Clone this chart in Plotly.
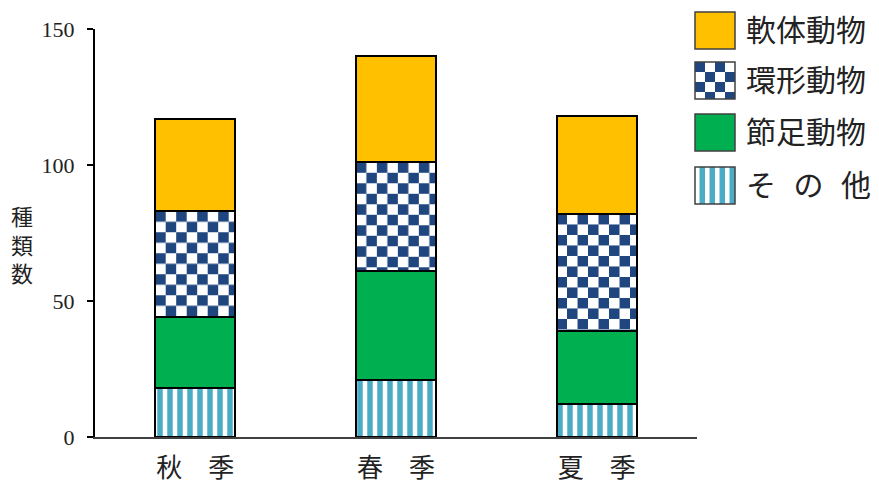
import base64
import plotly.graph_objects as go

# Seasons and species counts per group (stacked bottom to top)
seasons = ["秋　季", "春　季", "夏　季"]
other = [18, 21, 12]          # その他
arthropods = [26, 40, 27]     # 節足動物
annelids = [39, 40, 43]       # 環形動物
molluscs = [34, 39, 36]       # 軟体動物

legend_labels = ["軟体動物", "環形動物", "節足動物", "そ\u2002\u200aの\u2002\u200a他"]
y_ticks = [0, 50, 100, 150]

# Figure geometry (pixels)
W, H = 879, 484
ML, MR, MT, MB = 95, 182, 29, 47
PW, PH = W - ML - MR, H - MT - MB
Y_MAX = 150
BAR_FRAC = 0.4

YELLOW = "#FFC000"
GREEN = "#00B050"
CYAN = "#4BACC6"
NAVY = "#1F467E"

SERIF = "Liberation Serif, Noto Sans CJK JP, serif"


def checker_uri(w, h, cell, dark):
    c2 = 2 * cell
    svg = (
        f"<svg xmlns='http://www.w3.org/2000/svg' width='{w:.2f}' height='{h:.2f}' "
        f"viewBox='0 0 {w:.2f} {h:.2f}' preserveAspectRatio='none'>"
        f"<defs><pattern id='p' width='{c2}' height='{c2}' patternUnits='userSpaceOnUse'>"
        f"<rect width='{c2}' height='{c2}' fill='#ffffff'/>"
        f"<rect width='{cell}' height='{cell}' fill='{dark}'/>"
        f"<rect x='{cell}' y='{cell}' width='{cell}' height='{cell}' fill='{dark}'/>"
        f"</pattern></defs><rect width='{w:.2f}' height='{h:.2f}' fill='url(#p)'/></svg>"
    )
    return "data:image/svg+xml;base64," + base64.b64encode(svg.encode()).decode()


def stripe_uri(w, h, period, blue_w, color):
    svg = (
        f"<svg xmlns='http://www.w3.org/2000/svg' width='{w}' height='{h}' viewBox='0 0 {w} {h}'>"
        f"<defs><pattern id='s' width='{period}' height='{h}' patternUnits='userSpaceOnUse'>"
        f"<rect width='{period}' height='{h}' fill='#ffffff'/>"
        f"<rect x='{period - blue_w}' width='{blue_w}' height='{h}' fill='{color}'/>"
        f"</pattern></defs><rect width='{w}' height='{h}' fill='url(#s)'/></svg>"
    )
    return "data:image/svg+xml;base64," + base64.b64encode(svg.encode()).decode()


x_idx = list(range(len(seasons)))
outline = dict(color="#000000", width=2)

fig = go.Figure()
fig.add_trace(go.Bar(
    x=x_idx, y=other, showlegend=False,
    marker=dict(color="#ffffff", line=outline,
                pattern=dict(shape="|", fgcolor=CYAN, bgcolor="#ffffff",
                             size=10, solidity=0.55, fillmode="replace")),
))
fig.add_trace(go.Bar(x=x_idx, y=arthropods, showlegend=False,
                     marker=dict(color=GREEN, line=outline)))
fig.add_trace(go.Bar(x=x_idx, y=annelids, showlegend=False,
                     marker=dict(color="rgba(0,0,0,0)", line=outline)))
fig.add_trace(go.Bar(x=x_idx, y=molluscs, showlegend=False,
                     marker=dict(color=YELLOW, line=outline)))

# Checkerboard fill for the annelid segments, placed on the data axes
images = []
bar_px = BAR_FRAC * PW / len(seasons)
for i in x_idx:
    top = other[i] + arthropods[i] + annelids[i]
    h_px = annelids[i] * PH / Y_MAX
    images.append(dict(
        source=checker_uri(bar_px, h_px, 10.5, NAVY),
        xref="x", yref="y", x=i - BAR_FRAC / 2, y=top,
        sizex=BAR_FRAC, sizey=annelids[i], xanchor="left", yanchor="top",
        sizing="stretch", layer="below",
    ))


def px_x(px):
    return (px - ML) / PW


def px_y(py):
    return (H - MB - py) / PH


# Legend block on the right
shapes = []
annotations = []
sw_left, sw_right, sw_h = 695, 735, 37
sw_tops = [12, 62, 114, 167]
fills = [YELLOW, None, GREEN, None]
for k, label in enumerate(legend_labels):
    t = sw_tops[k]
    if k == 1:
        images.append(dict(source=checker_uri(40, sw_h, 10, NAVY), xref="paper", yref="paper",
                           x=px_x(sw_left), y=px_y(t), sizex=px_x(sw_right) - px_x(sw_left),
                           sizey=px_y(t) - px_y(t + sw_h), xanchor="left", yanchor="top",
                           sizing="stretch", layer="above"))
    elif k == 3:
        images.append(dict(source=stripe_uri(40, sw_h, 10, 5.5, CYAN), xref="paper", yref="paper",
                           x=px_x(sw_left), y=px_y(t), sizex=px_x(sw_right) - px_x(sw_left),
                           sizey=px_y(t) - px_y(t + sw_h), xanchor="left", yanchor="top",
                           sizing="stretch", layer="above"))
    shapes.append(dict(type="rect", xref="paper", yref="paper",
                       x0=px_x(sw_left), x1=px_x(sw_right),
                       y0=px_y(t + sw_h), y1=px_y(t),
                       fillcolor=fills[k] if fills[k] else "rgba(0,0,0,0)",
                       line=dict(color="#404040", width=1.5), layer="above"))
    annotations.append(dict(text=label, xref="paper", yref="paper",
                            x=px_x(744), y=px_y(t + sw_h / 2), xanchor="left", yanchor="middle",
                            showarrow=False, font=dict(family=SERIF, size=30, color="#222222")))

# Vertical axis title
annotations.append(dict(text="種<br>類<br>数", xref="paper", yref="paper",
                        x=px_x(22), y=px_y(246), xanchor="center", yanchor="middle",
                        showarrow=False, align="center",
                        font=dict(family=SERIF, size=22, color="#222222")))

fig.update_layout(
    width=W, height=H,
    margin=dict(l=ML, r=MR, t=MT, b=MB, pad=0),
    barmode="stack", bargap=1 - BAR_FRAC,
    paper_bgcolor="#ffffff", plot_bgcolor="rgba(0,0,0,0)",
    showlegend=False,
    images=images, shapes=shapes, annotations=annotations,
    xaxis=dict(tickmode="array", tickvals=x_idx, ticktext=seasons,
               range=[-0.5, len(seasons) - 0.5], automargin=False,
               showline=True, linecolor="#404040", linewidth=2,
               ticks="", showgrid=False, zeroline=False, ticklabelstandoff=7,
               tickfont=dict(family=SERIF, size=26, color="#222222")),
    yaxis=dict(range=[0, Y_MAX], tickmode="array", tickvals=y_ticks, automargin=False,
               showline=True, linecolor="#000000", linewidth=2,
               ticks="outside", ticklen=6, tickwidth=2, tickcolor="#000000",
               showgrid=False, zeroline=False, ticklabelstandoff=8,
               tickfont=dict(family=SERIF, size=22, color="#222222")),
)

fig.write_html("out.html")
